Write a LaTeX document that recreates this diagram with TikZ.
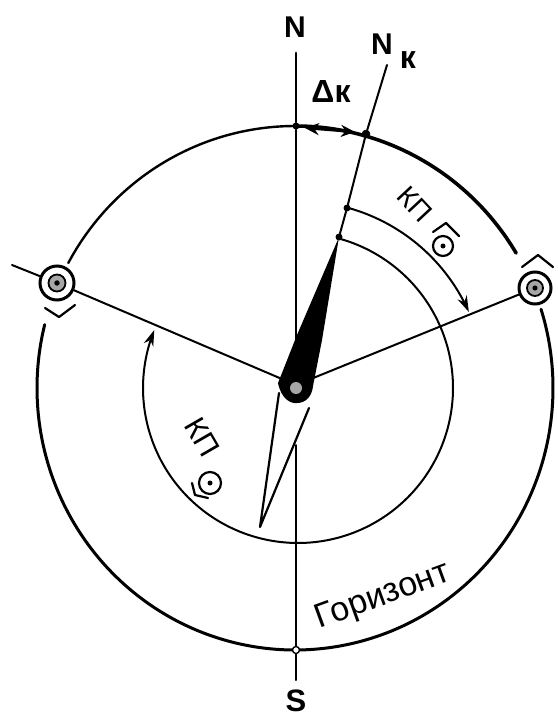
\documentclass[tikz,border=0pt]{standalone}
\usepackage{fontspec}
\setmainfont{Liberation Sans}
\usetikzlibrary{arrows.meta}
\tikzset{
  ink/.style={draw=black,line cap=round,line join=round},
  horizonring/.style={ink,line width=3pt},
  scalearc/.style={ink,line width=2pt},
  rayline/.style={ink,line width=2pt},
  lbl/.style={inner sep=0pt},
  dotmark/.style={circle,fill=black,inner sep=0pt,minimum size=7pt},
  arrowtip/.style={-{Stealth[length=16pt,width=10pt]}},
  chevron/.style={line width=2.2pt,line join=round,line cap=round}
}
\newcommand{\sunmark}[4]{% name, x, y, radius
  \node[circle,draw=black,line width=3pt,inner sep=0pt,minimum size=#4*2pt] (#1) at (#2,#3) {};
  \draw[line width=1.8pt,fill=black!35] (#2,#3) circle[radius=#4*0.5pt];
  \fill (#2,#3) circle[radius=#4*0.16pt];
}
\begin{document}
\begin{tikzpicture}[x=1pt,y=-1pt]
\useasboundingbox (0,0) rectangle (557,719);
% named points
\coordinate (Ntop) at (296,53);
\coordinate (Sbot) at (296,680);
\coordinate (Nk) at (387,65);
\coordinate (tip) at (339,237);
\coordinate (hub) at (296,385);
\coordinate (west) at (12,265);
% horizon ring
\draw[horizonring,line width=2.4pt] plot[smooth,domain=90:151.5,samples=30] ({295+258*cos(\x)},{388-262*sin(\x)});
\draw[horizonring,line width=3.6pt] plot[smooth,domain=31:90,samples=30] ({295+258*cos(\x)},{388-262*sin(\x)});
\draw[horizonring] plot[smooth,domain=166:377.5,samples=90] ({295+258*cos(\x)},{388-262*sin(\x)});
% scale arcs
\draw[scalearc,arrowtip] plot[smooth,domain=74.5:-202,samples=90] ({298+155*cos(\x)},{388-155*sin(\x)});
\draw[scalearc,arrowtip] plot[smooth,domain=75:24,samples=30] ({298+187*cos(\x)},{388-187*sin(\x)});
% meridians
\node[circle,draw=black,fill=white,line width=1.4pt,inner sep=0pt,minimum size=7pt] (south) at (296,650) {};
\node[dotmark] (north) at (296,126) {};
\draw[rayline,line width=2.8pt] (Ntop) -- (north) -- (296,340);
\draw[rayline] (296,445) -- (south) -- (Sbot);
% suns
\sunmark{sunE}{535}{288}{16}
\sunmark{sunW}{57}{283}{17}
\draw[chevron] (522,267) -- (538,255) -- (553,267);
\draw[chevron] (45,308) -- (59,317) -- (75,305);
% bearings
\draw[rayline] (west) -- (sunW);
\draw[rayline] (sunW) -- (hub);
\draw[rayline] (sunE) -- (hub);
% compass needle
\node[dotmark] (kp1) at (347,208) {};
\node[dotmark] (kp2) at (tip) {};
\node[circle,draw=black,fill=black,line width=0.5pt,inner sep=0pt,minimum size=8pt] (east) at (366,134) {};
\draw[rayline] (Nk) -- (east) -- (kp1) -- (kp2);
\draw[ink,line width=2.2pt,fill=white] (279,393) -- (260,527) -- (309,408);
\fill[black] (tip) -- (297,335) -- (278,383) .. controls (281,398) and (290,404) .. (297,403) .. controls (306,403) and (312,396) .. (313,386) -- (322,340) -- cycle;
\fill[white!65!black] (296,388) circle[radius=6pt];
% delta arrow
\draw[line width=2.4pt,{Stealth[length=14pt,width=12pt]}-{Stealth[length=14pt,width=12pt]}] (305,128) -- (355,132);
% labels
\node[lbl,font=\bfseries\fontsize{30}{30}\selectfont] (labN) at (295,27) {N};
\node[lbl,font=\bfseries\fontsize{30}{30}\selectfont] (labNk) at (382,44) {N};
\node[lbl,font=\bfseries\fontsize{32}{32}\selectfont] (labNk2) at (408,60) {к};
\node[lbl,font=\bfseries\fontsize{32}{32}\selectfont] (labDk) at (331,91) {Δк};
\node[lbl,font=\fontsize{28}{28}\selectfont,rotate=-47] (labE) at (415,204) {КП};
\node[lbl,font=\fontsize{30}{30}\selectfont,rotate=-60] (labW) at (202,437) {КП};
\node[lbl,font=\fontsize{34}{34}\selectfont,rotate=20] (labH) at (383,597) {Горизонт};
\node[lbl,font=\bfseries\fontsize{31}{31}\selectfont] (labS) at (296,701) {S};
% small suns in labels
\draw[line width=2.2pt] (443,246) circle[radius=10pt];
\fill (443,246) circle[radius=2.5pt];
\draw[chevron] (433,232) -- (446,223) -- (459,236);
\draw[line width=2.2pt] (210,483) circle[radius=11pt];
\fill (210,483) circle[radius=2.5pt];
\draw[chevron] (192,483) -- (195,495) -- (208,498);
\end{tikzpicture}
\end{document}
